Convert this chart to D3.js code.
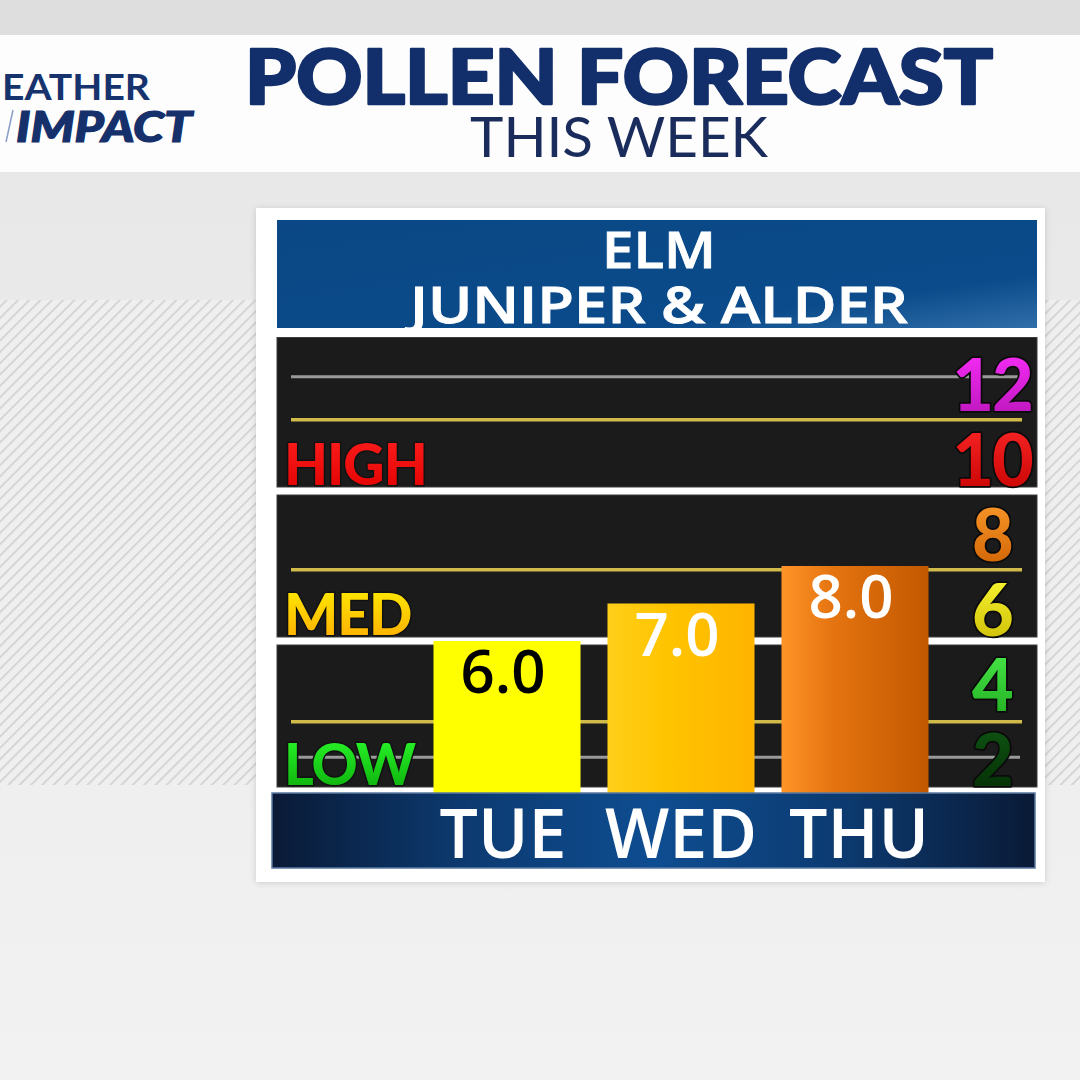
<!DOCTYPE html>
<html><head><meta charset="utf-8">
<script src="https://cdn.jsdelivr.net/npm/d3@7"></script>
<style>html,body{margin:0;padding:0;background:#ececec;} svg{display:block;}</style>
</head><body><svg id="c" width="1080" height="1080"></svg>
<script>
// ---------- data ----------
const titleText = "POLLEN FORECAST";
const subtitleText = "THIS WEEK";
const logoTop = "EATHER";
const logoBottom = "IMPACT";
const panelTitle = ["ELM", "JUNIPER & ALDER"];
const days = ["TUE", "WED", "THU"];
const values = [6.0, 7.0, 8.0];
const tickValues = [2, 4, 6, 8, 10, 12];
const tickLabels = ["2", "4", "6", "8", "10", "12"];
const levelNames = ["LOW", "MED", "HIGH"];
const levelFrom = [2, 6, 10];
const levelTo = [6, 10, 14.2];
const goldLines = [3.85, 7.9, 11.9];
const grayLines = [2.9, 13.05];

// ---------- styles ----------
const navy = "#132f6b";
const tickGrad = [["#0f5a14","#042a04"],["#4cf04c","#1fa81f"],["#ffff3a","#c9b800"],["#ffa030","#cc5e00"],["#ff2a2a","#c40000"],["#ff30ff","#b514b5"]];
const levelGrad = [["#2cff2c","#0aa80a"],["#fff200","#ffa800"],["#ff2020","#e00000"]];
const barGrad = [[["#ffff00",0],["#ffff00",1]],[["#ffcf1a",0],["#ffc400",0.4],["#ffb400",1]],[["#ff9428",0],["#e57410",0.35],["#c25800",1]]];
const valueColor = ["#000000","#ffffff","#ffffff"];

const svg = d3.select("#c");
const defs = svg.append("defs");

// background
const bg = defs.append("linearGradient").attr("id","bg").attr("x1",0).attr("y1",0).attr("x2",0).attr("y2",1);
bg.append("stop").attr("offset","0%").attr("stop-color","#e6e6e6");
bg.append("stop").attr("offset","100%").attr("stop-color","#f2f2f2");
svg.append("rect").attr("width",1080).attr("height",1080).attr("fill","url(#bg)");

// hatch
const pat = defs.append("pattern").attr("id","hatch").attr("patternUnits","userSpaceOnUse")
  .attr("width",8).attr("height",8).attr("patternTransform","rotate(45)");
pat.append("rect").attr("width",8).attr("height",8).attr("fill","#efefef");
pat.append("line").attr("x1",0).attr("y1",0).attr("x2",0).attr("y2",8).attr("stroke","#d2d2d2").attr("stroke-width",3.5);
svg.append("rect").attr("x",0).attr("y",300).attr("width",258).attr("height",485).attr("fill","url(#hatch)");
svg.append("rect").attr("x",1045).attr("y",300).attr("width",35).attr("height",485).attr("fill","url(#hatch)");

// header band
svg.append("rect").attr("x",0).attr("y",0).attr("width",1080).attr("height",35).attr("fill","#dedede");
svg.append("rect").attr("x",0).attr("y",35).attr("width",1080).attr("height",137).attr("fill","#fdfdfd");

svg.append("text").attr("x",619).attr("y",104).attr("text-anchor","middle")
  .attr("font-family","Lato, 'Open Sans', sans-serif").attr("font-weight",900).attr("font-size",76)
  .attr("fill",navy).attr("stroke",navy).attr("stroke-width",2.5).attr("stroke-linejoin","round")
  .attr("textLength",748).attr("lengthAdjust","spacingAndGlyphs").text(titleText);
svg.append("text").attr("x",619).attr("y",157).attr("text-anchor","middle")
  .attr("font-family","Lato, 'Open Sans', sans-serif").attr("font-weight",400).attr("font-size",56)
  .attr("fill","#1a2c5c").attr("textLength",298).attr("lengthAdjust","spacingAndGlyphs").text(subtitleText);

// logo
svg.append("text").attr("x",2).attr("y",100)
  .attr("font-family","Lato, sans-serif").attr("font-weight",700).attr("font-size",36)
  .attr("fill","#17336e").attr("textLength",148).attr("lengthAdjust","spacingAndGlyphs").text(logoTop);
svg.append("text").attr("x",16).attr("y",142)
  .attr("font-family","Lato, sans-serif").attr("font-weight",900).attr("font-style","italic").attr("font-size",42)
  .attr("fill","#15306a").attr("stroke","#15306a").attr("stroke-width",1.2)
  .attr("textLength",176).attr("lengthAdjust","spacingAndGlyphs").text(logoBottom);
svg.append("line").attr("x1",6).attr("y1",142).attr("x2",13).attr("y2",110).attr("stroke","#8aa0c8").attr("stroke-width",1.5);

// card
const sh = defs.append("filter").attr("id","sh").attr("x","-5%").attr("y","-5%").attr("width","110%").attr("height","110%");
sh.append("feDropShadow").attr("dx",0).attr("dy",1).attr("stdDeviation",3).attr("flood-color","#000").attr("flood-opacity",0.15);
svg.append("rect").attr("x",256).attr("y",208).attr("width",789).attr("height",674).attr("fill","#ffffff").attr("filter","url(#sh)");

// panel header
const hb = defs.append("linearGradient").attr("id","hb").attr("x1",0).attr("y1",0).attr("x2",1).attr("y2",1);
hb.append("stop").attr("offset","0%").attr("stop-color","#0a4784");
hb.append("stop").attr("offset","75%").attr("stop-color","#0b4b8b");
hb.append("stop").attr("offset","100%").attr("stop-color","#2f6ea8");
svg.append("rect").attr("x",277).attr("y",220).attr("width",760).attr("height",108).attr("fill","url(#hb)");
const ptW = [114, 498];
svg.selectAll("text.ptitle").data(panelTitle).join("text").attr("class","ptitle")
  .attr("x",659).attr("y",(d,i)=>268 + i*55).attr("text-anchor","middle")
  .attr("font-family","'Open Sans', sans-serif").attr("font-weight",600).attr("font-size",50)
  .attr("fill","#ffffff").attr("stroke","#ffffff").attr("stroke-width",0.8)
  .attr("textLength",(d,i)=>ptW[i]).attr("lengthAdjust","spacingAndGlyphs").text(d=>d);

// scales
const y = d3.scaleLinear().domain([2, 14]).range([791, 341]);
const x = d3.scaleBand().domain(days).range([433.5, 928.5]).paddingInner(0.155).paddingOuter(0);

// level panels
svg.selectAll("rect.band").data(levelNames).join("rect").attr("class","band")
  .attr("x",277).attr("width",760)
  .attr("y",(d,i)=>y(levelTo[i]) + 4)
  .attr("height",(d,i)=>y(levelFrom[i]) - y(levelTo[i]) - 8)
  .attr("fill","#1b1b1b").attr("stroke","#3c3c3c").attr("stroke-width",1);

// grid lines
svg.selectAll("line.gray").data(grayLines).join("line").attr("class","gray")
  .attr("x1",291).attr("x2",1020).attr("y1",d=>y(d)).attr("y2",d=>y(d))
  .attr("stroke","#9a9a9a").attr("stroke-width",3);
svg.selectAll("line.gold").data(goldLines).join("line").attr("class","gold")
  .attr("x1",291).attr("x2",1022).attr("y1",d=>y(d)).attr("y2",d=>y(d))
  .attr("stroke","#d0bb4a").attr("stroke-width",3.5);

// bars
barGrad.forEach((stops,i)=>{
  const g = defs.append("linearGradient").attr("id","bar"+i).attr("x1",0).attr("y1",0).attr("x2",1).attr("y2",0);
  stops.forEach(s=>g.append("stop").attr("offset",s[1]).attr("stop-color",s[0]));
});
svg.selectAll("rect.bar").data(values).join("rect").attr("class","bar")
  .attr("x",(d,i)=>x(days[i])).attr("width",x.bandwidth())
  .attr("y",d=>y(d)).attr("height",d=>y.range()[0] + 75 - y(d))
  .attr("fill",(d,i)=>"url(#bar"+i+")");
svg.selectAll("text.val").data(values).join("text").attr("class","val")
  .attr("x",(d,i)=>x(days[i]) + x.bandwidth()/2 - 4).attr("y",d=>y(d) + 52)
  .attr("text-anchor","middle").attr("font-family","'Open Sans', sans-serif").attr("font-weight",600)
  .attr("font-size",60).attr("fill",(d,i)=>valueColor[i]).text(d=>d.toFixed(1));

// tick numerals
tickGrad.forEach((c,i)=>{
  const g = defs.append("linearGradient").attr("id","tk"+i).attr("x1",0).attr("y1",0).attr("x2",0).attr("y2",1);
  g.append("stop").attr("offset","0%").attr("stop-color",c[0]);
  g.append("stop").attr("offset","100%").attr("stop-color",c[1]);
});
svg.selectAll("text.tick").data(tickValues).join("text").attr("class","tick")
  .attr("x",992).attr("y",d=>y(d) - 5).attr("text-anchor","middle")
  .attr("font-family","Lato, sans-serif").attr("font-weight",900).attr("font-size",72)
  .attr("letter-spacing",-2)
  .attr("fill",(d,i)=>"url(#tk"+i+")").attr("stroke","#0a0a0a").attr("stroke-width",3.5)
  .attr("stroke-linejoin","round").attr("paint-order","stroke").text((d,i)=>tickLabels[i]);

// level labels
levelGrad.forEach((c,i)=>{
  const g = defs.append("linearGradient").attr("id","lv"+i).attr("x1",0).attr("y1",0).attr("x2",0).attr("y2",1);
  g.append("stop").attr("offset","0%").attr("stop-color",c[0]);
  g.append("stop").attr("offset","100%").attr("stop-color",c[1]);
});
svg.selectAll("text.lvl").data(levelNames).join("text").attr("class","lvl")
  .attr("x",284).attr("y",(d,i)=>y(levelFrom[i]) - 6)
  .attr("font-family","Lato, sans-serif").attr("font-weight",900).attr("font-size",57)
  .attr("letter-spacing",-1)
  .attr("fill",(d,i)=>"url(#lv"+i+")").attr("stroke","#111").attr("stroke-width",3)
  .attr("stroke-linejoin","round").attr("paint-order","stroke").text(d=>d);

// day bar
const db = defs.append("linearGradient").attr("id","db").attr("x1",0).attr("y1",0).attr("x2",1).attr("y2",0);
[["0%","#0a1a36"],["25%","#0c3a70"],["50%","#0e4d91"],["75%","#0c3a70"],["100%","#0a1a36"]]
  .forEach(s=>db.append("stop").attr("offset",s[0]).attr("stop-color",s[1]));
svg.append("rect").attr("x",272).attr("y",793).attr("width",763).attr("height",75).attr("fill","url(#db)")
  .attr("stroke","#5a7aa0").attr("stroke-width",1.5);
svg.selectAll("text.day").data(days).join("text").attr("class","day")
  .attr("x",(d,i)=>x(d) + x.bandwidth()/2 + (i-1)*4).attr("y",858).attr("text-anchor","middle")
  .attr("font-family","'Open Sans', sans-serif").attr("font-weight",600).attr("font-size",68)
  .attr("fill","#ffffff").text(d=>d);
</script></body></html>
